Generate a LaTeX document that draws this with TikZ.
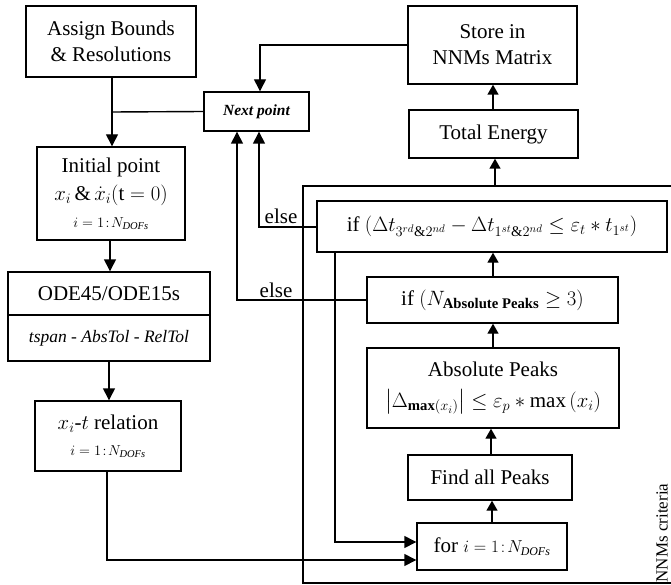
\documentclass[tikz,border=0pt]{standalone}
\usepackage{amsmath}
\usepackage{fontspec}
\setmainfont{Liberation Serif}
\usetikzlibrary{arrows.meta}
\begin{document}
\begin{tikzpicture}[x=1pt,y=-1pt, line width=1.4pt,
  box/.style={draw, line width=1.4pt, align=center, inner sep=2pt, font=\fontsize{21}{26}\selectfont},
  arr/.style={-{Triangle[length=12pt,width=12pt]}},
  sarr/.style={-{Triangle[length=10pt,width=11pt]}},
  lbl/.style={font=\fontsize{21}{25}\selectfont, inner sep=0pt}]
\useasboundingbox (0,0) rectangle (671,585);

% left column
\node[box, minimum width=170pt, minimum height=71pt] (assign) at (111,41.5) {Assign Bounds\\ \& Resolutions};
\node[box, minimum width=105pt, minimum height=39pt, font=\fontsize{15.5}{18}\selectfont\bfseries\itshape] (next) at (256.5,111.5) {Next point};
\node[box, minimum width=148pt, minimum height=93pt] (init) at (111,193.5)
  {Initial point\\[2pt] $x_i\,\&\,\dot{x}_i(\mathrm{t}=0)$\\[1pt] {\fontsize{15}{17}\selectfont $i=1\!:\!N_{\mathit{DOFs}}$}};
\node[box, minimum width=202pt, minimum height=43pt] (ode) at (109,293.5) {ODE45/ODE15s};
\node[box, minimum width=202pt, minimum height=46pt, font=\fontsize{17.5}{20}\selectfont\itshape] (tol) at (109,338) {tspan - AbsTol - RelTol};
\node[box, minimum width=146pt, minimum height=70pt] (xt) at (108,436)
  {$x_i$-$t$ relation\\[0pt] {\fontsize{15}{17}\selectfont $i=1\!:\!N_{\mathit{DOFs}}$}};

% right column
\node[box, minimum width=169pt, minimum height=78pt] (store) at (492.5,45) {Store in\\ NNMs Matrix};
\node[box, minimum width=169pt, minimum height=48pt] (total) at (493.5,134) {Total Energy};
\node[box, minimum width=350pt, minimum height=51pt] (ifdt) at (492,226.5)
  {if $(\Delta t_{3^{rd}\&2^{nd}} - \Delta t_{1^{st}\&2^{nd}} \le \varepsilon_t * t_{1^{st}})$};
\node[box, minimum width=251pt, minimum height=46pt] (ifn) at (492.5,300)
  {if $(N_{\text{\bfseries Absolute Peaks}} \ge 3)$};
\node[box, minimum width=252pt, minimum height=80pt] (abs) at (493,388)
  {Absolute Peaks\\[5pt] $\bigl|\Delta_{\mathbf{max}(x_i)}\bigr| \le \varepsilon_p * \max{(x_i)}$};
\node[box, minimum width=164pt, minimum height=45pt] (find) at (490,477.5) {Find all Peaks};
\node[box, minimum width=150pt, minimum height=47pt] (for) at (492,546.5)
  {for {\fontsize{17}{19}\selectfont $i=1\!:\!N_{\mathit{DOFs}}$}};

% frame
\coordinate (ftl) at (303,186);
\coordinate (fbl) at (303,583);
\coordinate (ftr) at (671,186);
\coordinate (fbr) at (671,583);
\draw[line width=1.8pt] (ftr) -- (ftl) -- (fbl) -- (fbr);
\node[font=\fontsize{17}{20}\selectfont, rotate=90, inner sep=0pt] (crit) at (662,533) {NNMs criteria};

% labels
\node[lbl] (else1) at (281,216) {else};
\node[lbl] (else2) at (276,290) {else};

% left connectors
\draw[arr] (assign.south -| 112,0) -- (init.north -| 112,0);
\coordinate (j1) at (112,112);
\draw (next.west) -- (j1);
\draw[arr] (init.south -| 110,0) -- (ode.north -| 110,0);
\draw[arr] (tol.south -| 109,0) -- (xt.north -| 109,0);

% store -> next
\coordinate (s1) at (260,45);
\draw[arr] (store.west |- s1) -- (s1) -- (s1 |- next.north);

% else connectors
\coordinate (e1) at (259,227);
\draw[arr] (ifdt.west |- e1) -- (e1) -- (e1 |- next.south);
\coordinate (e2) at (237,300);
\draw[arr] (ifn.west |- e2) -- (e2) -- (e2 |- next.south);

% loop back into for
\coordinate (l1) at (335,542);
\draw[arr] (ifdt.south -| l1) -- (l1) -- (l1 -| for.west);
\coordinate (x1) at (107,560);
\draw[arr] (xt.south -| x1) -- (x1) -- (x1 -| for.west);

% upward arrows
\draw[sarr] (for.north -| 492,0) -- (find.south -| 492,0);
\draw[sarr] (find.north -| 491,0) -- (abs.south -| 491,0);
\draw[sarr] (abs.north -| 493,0) -- (ifn.south -| 493,0);
\draw[sarr] (ifn.north -| 493,0) -- (ifdt.south -| 493,0);
\coordinate (ft) at (495,186);
\draw[sarr] (ft) -- (ft |- total.south);
\draw[sarr] (total.north -| 493,0) -- (store.south -| 493,0);
\end{tikzpicture}
\end{document}
